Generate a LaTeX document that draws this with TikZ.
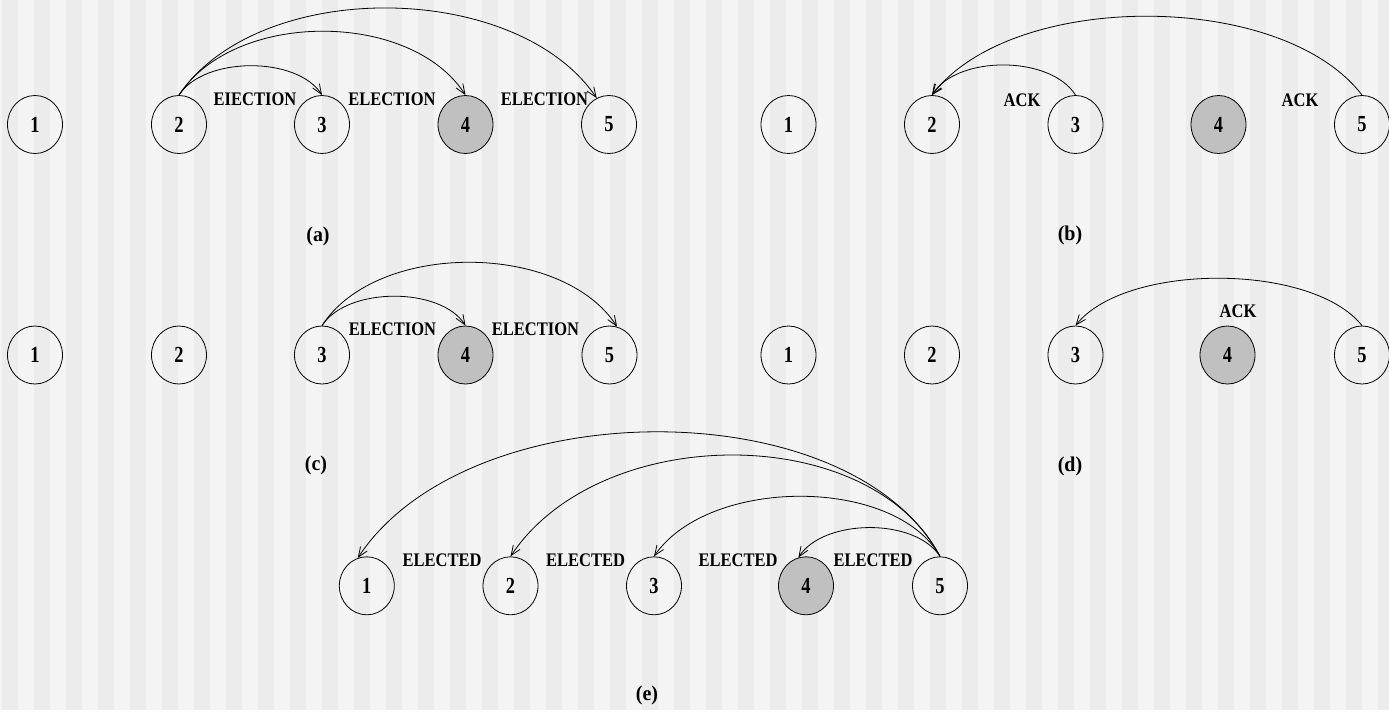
\documentclass[tikz,border=0pt]{standalone}
\usepackage{fontspec}
\setmainfont{Liberation Serif}
\newfontfamily\labfont[FakeStretch=0.86]{Liberation Serif Bold}
\newfontfamily\numfont[FakeStretch=0.8]{Liberation Serif Bold}
\newfontfamily\capfont[FakeStretch=0.95]{Liberation Serif Bold}
\usetikzlibrary{shapes.geometric,arrows.meta}
\definecolor{bglight}{HTML}{F4F4F4}
\definecolor{bgdark}{HTML}{ECECEC}
\definecolor{nodegray}{HTML}{C0C0C0}
\tikzset{
  procnode/.style={ellipse,draw=black,line width=0.8pt,minimum width=55pt,minimum height=58pt,inner sep=0pt,font=\numfont\fontsize{23}{24}\selectfont},
  leadnode/.style={procnode,fill=nodegray},
  msgtext/.style={inner sep=0pt,font=\labfont\fontsize{19.2}{20}\selectfont},
  subcaption/.style={inner sep=0pt,font=\capfont\fontsize{21}{22}\selectfont},
  msgarc/.style={draw=black,line width=0.8pt,-{Straight Barb[length=10pt,width=8pt]}}
}
\begin{document}
\begin{tikzpicture}[x=1pt,y=-1pt]
\useasboundingbox (0,0) rectangle (1389,710);
\fill[bglight] (0,0) rectangle (1389,710);
\foreach \k in {0,...,43} {
  \fill[bgdark] ({2+32*\k},0) rectangle ({min(18+32*\k,1389)},710);
}
% ---------- (a)
\node[procnode]  (a1) at (35,124.5) {1};
\node[procnode]  (a2) at (179,124.5) {2};
\node[procnode]  (a3) at (322,124.5) {3};
\node[leadnode] (a4) at (465.5,124.5) {4};
\node[procnode]  (a5) at (609,124.5) {5};
\node[msgtext] (am1) at (255,99) {EIECTION};
\node[msgtext] (am2) at (392,99) {ELECTION};
\node[msgtext] (am3) at (544.5,99) {ELECTION};
\node[subcaption] (ca) at (318,236) {(a)};
\draw[msgarc] (a2.north) .. controls +(25,-39) and +(-25,-39) .. (a3.north);
\draw[msgarc] (a2.north) .. controls +(55,-85) and +(-55,-85) .. (a4.north);
\draw[msgarc] (a2.north) .. controls +(80,-118) and +(-80,-118) .. (a5.115);
% ---------- (b)
\node[procnode]  (b1) at (788.5,124.5) {1};
\node[procnode]  (b2) at (932,124.5) {2};
\node[procnode]  (b3) at (1075.5,124.5) {3};
\node[leadnode] (b4) at (1218.5,124.5) {4};
\node[procnode]  (b5) at (1362,124.5) {5};
\node[msgtext] (bm1) at (1022,100) {ACK};
\node[msgtext] (bm2) at (1300,100) {ACK};
\node[subcaption] (cb) at (1070,235) {(b)};
\draw[msgarc] (b3.north) .. controls +(-25,-40) and +(25,-40) .. (b2.north);
\draw[msgarc] (b5.north) .. controls +(-80,-105) and +(80,-105) .. (b2.north);
% ---------- (c)
\node[procnode]  (c1) at (35,355) {1};
\node[procnode]  (c2) at (179,355) {2};
\node[procnode]  (c3) at (322,355) {3};
\node[leadnode] (c4) at (465.5,355) {4};
\node[procnode]  (c5) at (609.5,355) {5};
\node[msgtext] (cm1) at (392.5,329.5) {ELECTION};
\node[msgtext] (cm2) at (535.5,329.5) {ELECTION};
\node[subcaption] (cc) at (316,465) {(c)};
\draw[msgarc] (c3.north) .. controls +(25,-39) and +(-25,-39) .. (c4.north);
\draw[msgarc] (c3.north) .. controls +(55,-85) and +(-55,-85) .. (c5.75);
% ---------- (d)
\node[procnode]  (d1) at (788.5,355) {1};
\node[procnode]  (d2) at (932,355) {2};
\node[procnode]  (d3) at (1075.5,355) {3};
\node[leadnode] (d4) at (1227.5,355) {4};
\node[procnode]  (d5) at (1362,355) {5};
\node[msgtext] (dm1) at (1238,311.5) {ACK};
\node[subcaption] (cd) at (1070,466) {(d)};
\draw[msgarc] (d5.north) .. controls +(-50,-63) and +(50,-63) .. (d3.north);
% ---------- (e)
\node[procnode]  (e1) at (366.8,585.8) {1};
\node[procnode]  (e2) at (510.5,585.8) {2};
\node[procnode]  (e3) at (654,585.8) {3};
\node[leadnode] (e4) at (806,585.8) {4};
\node[procnode]  (e5) at (940,585.8) {5};
\node[msgtext] (em1) at (442,560.4) {ELECTED};
\node[msgtext] (em2) at (585.6,560.4) {ELECTED};
\node[msgtext] (em3) at (738,560.4) {ELECTED};
\node[msgtext] (em4) at (873,560.4) {ELECTED};
\node[subcaption] (ce) at (647,695) {(e)};
\draw[msgarc] (e5.north) .. controls +(-90,-167) and +(110,-167) .. (e1.108);
\draw[msgarc] (e5.north) .. controls +(-70,-135) and +(90,-135) .. (e2.north);
\draw[msgarc] (e5.north) .. controls +(-45,-80) and +(55,-80) .. (e3.north);
\draw[msgarc] (e5.north) .. controls +(-25,-39) and +(25,-39) .. (e4.105);
\end{tikzpicture}
\end{document}
